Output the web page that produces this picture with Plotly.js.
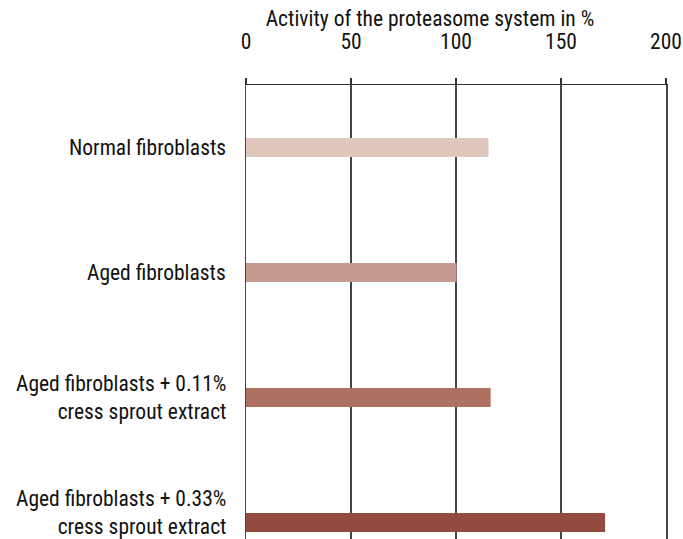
<!DOCTYPE html>
<html>
<head>
<meta charset="utf-8">
<script src="https://cdn.plot.ly/plotly-3.0.1.min.js"></script>
<style>html,body{margin:0;padding:0;background:#fff;}#chart{width:683px;height:539px;}</style>
</head>
<body>
<div id="chart"></div>
<script>
const categories = [
  "Normal fibroblasts",
  "Aged fibroblasts",
  "Aged fibroblasts + 0.11%<br>cress sprout extract",
  "Aged fibroblasts + 0.33%<br>cress sprout extract"
];
const activity = [115.5, 100.3, 116.5, 171];
const barColors = ["#dfc7be", "#c49b8e", "#ad7162", "#944b3f"];
const xTicks = [0, 50, 100, 150, 200];
const labelShift = [0, 0, 0, 10];

const FONT = "'Liberation Sans Narrow', 'Roboto Condensed', 'DejaVu Sans Condensed', 'Arial Narrow', sans-serif";
const FS = 21.5;

const annotations = categories.map((c, i) => ({
  xref: 'paper', yref: 'y', x: 0, y: c,
  xanchor: 'right', yanchor: 'middle', align: 'right',
  xshift: -18, yshift: labelShift[i],
  text: c, showarrow: false,
  font: {family: FONT, size: FS, color: '#111'}
}));

Plotly.newPlot('chart', [{
  type: 'bar',
  orientation: 'h',
  y: categories,
  x: activity,
  width: 0.152,
  marker: {color: barColors, line: {width: 0}},
  hoverinfo: 'none'
}], {
  width: 683, height: 539,
  margin: {l: 246, r: 17, t: 85, b: 0},
  paper_bgcolor: '#fff', plot_bgcolor: '#fff',
  font: {family: FONT, size: FS, color: '#111'},
  showlegend: false,
  title: {
    text: 'Activity of the proteasome system in %',
    xref: 'container', x: 430 / 683, xanchor: 'center',
    yref: 'container', y: 1 - 18 / 539, yanchor: 'middle',
    font: {family: FONT, size: FS, color: '#111'}
  },
  annotations: annotations,
  xaxis: {
    side: 'top',
    range: [0, 200],
    tickvals: xTicks,
    ticktext: xTicks.map(String),
    ticks: 'outside', ticklen: 6, tickcolor: '#333', tickwidth: 1.5,
    showline: true, linecolor: '#333', linewidth: 1.5,
    showgrid: true, gridcolor: '#444', gridwidth: 1.5,
    zeroline: false,
    ticklabelstandoff: 20,
    tickfont: {family: FONT, size: FS, color: '#111'},
    fixedrange: true
  },
  yaxis: {
    type: 'category',
    range: [3.132, -0.5],
    showgrid: false, zeroline: false,
    showline: true, mirror: true, linecolor: '#444', linewidth: 1.5,
    ticks: '', showticklabels: false,
    fixedrange: true
  }
}, {displayModeBar: false, staticPlot: true});
</script>
</body>
</html>
